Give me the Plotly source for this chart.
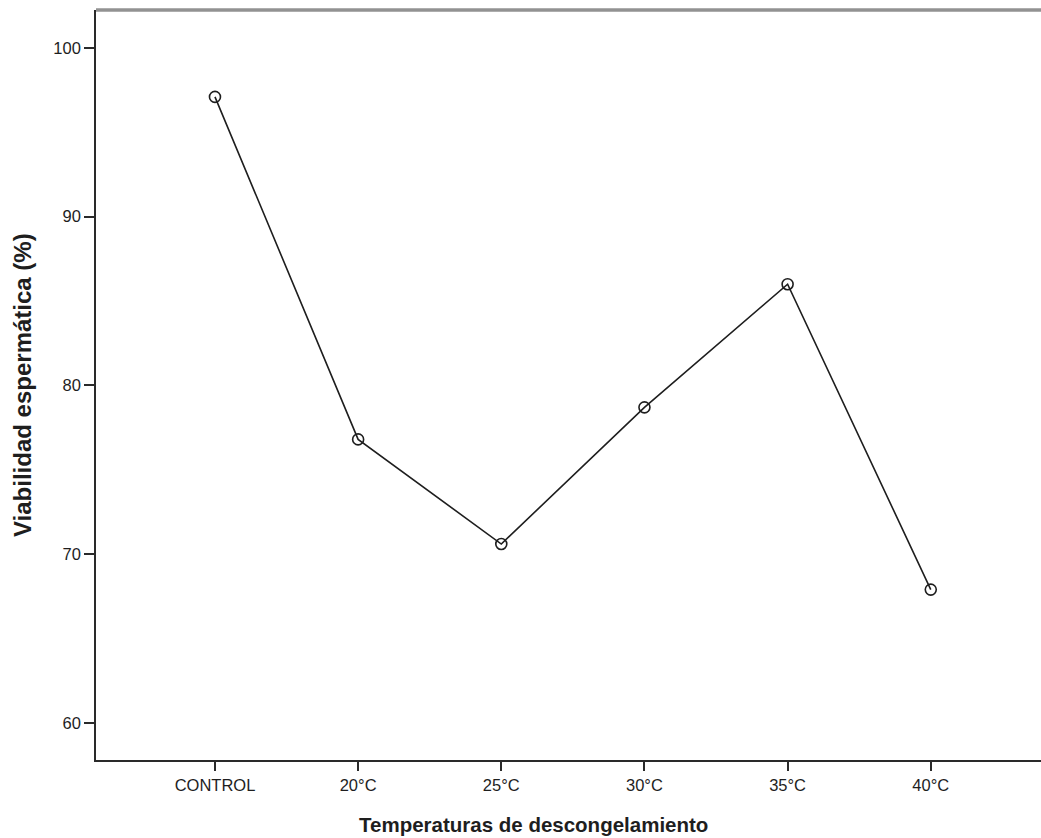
import plotly.graph_objects as go

categories = ["CONTROL", "20°C", "25°C", "30°C", "35°C", "40°C"]
viabilidad = [97.1, 76.8, 70.6, 78.7, 86.0, 67.9]
y_ticks = [60, 70, 80, 90, 100]

x_idx = list(range(len(categories)))

W, H = 1041, 838
L, R, T, B = 96, 0, 10, 78
pw, ph = W - L - R, H - T - B

fig = go.Figure()
fig.add_trace(go.Scatter(
    x=x_idx, y=viabilidad, mode="lines+markers",
    line=dict(color="#1e1e1e", width=1.6),
    marker=dict(symbol="circle-open", size=11, color="#1e1e1e", line=dict(width=1.6)),
    showlegend=False,
))

font_family = "Liberation Sans, Arial, sans-serif"
fig.update_layout(
    width=W, height=H,
    margin=dict(l=L, r=R, t=T, b=B, pad=0),
    plot_bgcolor="white", paper_bgcolor="white",
    font=dict(family=font_family, color="#1e1e1e", size=17),
    xaxis=dict(
        range=[-0.831, 5.77], tickmode="array", tickvals=x_idx, ticktext=categories,
        showgrid=False, zeroline=False, showline=True, linecolor="#2a2a2a", linewidth=1.6,
        ticks="outside", ticklen=9, tickwidth=1.6, tickcolor="#2a2a2a",
        tickfont=dict(size=16.5),
    ),
    yaxis=dict(
        range=[57.8, 102.25], tickmode="array", tickvals=y_ticks,
        showgrid=False, zeroline=False, showline=True, linecolor="#2a2a2a", linewidth=1.6,
        ticks="outside", ticklen=10, tickwidth=1.6, tickcolor="#2a2a2a",
        tickfont=dict(size=16.5),
    ),
    shapes=[dict(type="line", xref="paper", yref="paper", x0=0, x1=1, y0=1, y1=1,
                 line=dict(color="#929292", width=3.5))],
    annotations=[
        dict(text="<b>Temperaturas de descongelamiento</b>", xref="paper", yref="paper",
             x=(533 - L) / pw, y=-(824 - (T + ph)) / ph, xanchor="center", yanchor="middle",
             showarrow=False, font=dict(size=20.5)),
        dict(text="<b>Viabilidad espermática (%)</b>", xref="paper", yref="paper",
             x=(22 - L) / pw, y=(T + ph - 385) / ph, xanchor="center", yanchor="middle",
             textangle=-90, showarrow=False, font=dict(size=24)),
    ],
)

fig.write_html("out.html", config={"displayModeBar": False},
               post_script="document.body.style.margin='0';document.body.style.overflow='hidden';")
